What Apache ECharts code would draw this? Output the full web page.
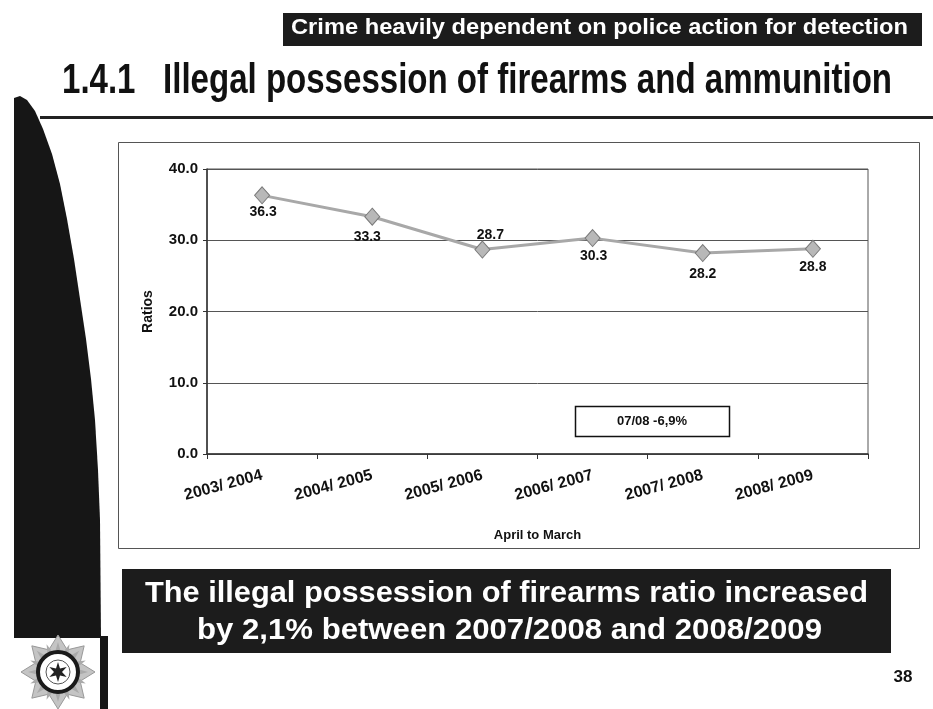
<!DOCTYPE html>
<html>
<head>
<meta charset="utf-8">
<script src="https://cdn.jsdelivr.net/npm/echarts@6/dist/echarts.min.js"></script>
<style>
html,body{margin:0;padding:0;background:#fff;}
#main{width:933px;height:709px;}
</style>
</head>
<body>
<div id="main"></div>
<script>
// ---- data ----
const categories = ['2003/ 2004', '2004/ 2005', '2005/ 2006', '2006/ 2007', '2007/ 2008', '2008/ 2009'];
const ratios = [36.3, 33.3, 28.7, 30.3, 28.2, 28.8];
const yMin = 0, yMax = 40, yInterval = 10;
const titleText = '1.4.1   Illegal possession of firearms and ammunition';
const bannerText = 'Crime heavily dependent on police action for detection';
const noteText = '07/08 -6,9%';
const conclusion1 = 'The illegal possession of firearms ratio increased';
const conclusion2 = 'by 2,1% between 2007/2008 and 2008/2009';
const pageNo = '38';
const yAxisName = 'Ratios';
const xAxisName = 'April to March';

// ---- styles (label offsets relative to each point) ----
const labelOffsets = [[1, 17], [-5, 20], [8, -14], [1, 18], [0, 21], [0, 18]];

const SANS = '"Liberation Sans", Arial, Helvetica, sans-serif';
const NARROW = '"Liberation Sans Narrow", "Arial Narrow", "Liberation Sans", Arial, sans-serif';

const mctx = document.createElement('canvas').getContext('2d');
function fit(text, font, width) {
  mctx.font = font;
  return width / mctx.measureText(text).width;
}
function fitText(text, font, x0, x1, y, fill) {
  const s = fit(text, font, x1 - x0);
  return {
    type: 'text', x: x0, y: y, scaleX: s, originX: 0, originY: 0, z: 20,
    style: { text: text, font: font, fill: fill, align: 'left', verticalAlign: 'middle' }
  };
}

// left decorative shape
const leftShape = [[14,98],[20,96],[27,100],[35,111],[43,129],[52,154],[60,184],[67,219],[74,259],[80,299],[86,339],[91,379],[95,420],[98,470],[100,520],[101,638],[14,638]];

// star for logo
function starPoints(cx, cy, rOut, rIn, n) {
  const pts = [];
  for (let i = 0; i < n * 2; i++) {
    const r = i % 2 === 0 ? rOut : rIn;
    const a = Math.PI * i / n - Math.PI / 2;
    pts.push([cx + r * Math.cos(a), cy + r * Math.sin(a)]);
  }
  return pts;
}

const chart = echarts.init(document.getElementById('main'), null, { renderer: 'canvas' });

const graphics = [
  // chart frame
  { type: 'rect', shape: { x: 118.5, y: 142.5, width: 801, height: 406 }, style: { fill: 'none', stroke: '#555', lineWidth: 1 }, z: 1 },
  // top banner
  { type: 'rect', shape: { x: 283, y: 13, width: 639, height: 33 }, style: { fill: '#1c1c1c' }, z: 10 },
  fitText(bannerText, 'bold 22px ' + NARROW, 291, 908, 28, '#fff'),
  // title
  fitText(titleText, 'bold 42px ' + NARROW, 62, 892, 81, '#111'),
  // rule under title
  { type: 'rect', shape: { x: 40, y: 116, width: 893, height: 3 }, style: { fill: '#222' }, z: 10 },
  // left black shape
  { type: 'polygon', shape: { points: leftShape, smooth: 0 }, style: { fill: '#161616' }, z: 5 },
  { type: 'rect', shape: { x: 100, y: 636, width: 8, height: 73 }, style: { fill: '#161616' }, z: 5 },
  // logo
  { type: 'polygon', shape: { points: starPoints(58, 672, 37, 24, 8) }, style: { fill: '#c4c4c4', stroke: '#999', lineWidth: 1 }, z: 6 },
  { type: 'polygon', shape: { points: starPoints(58, 672, 30, 18, 16) }, style: { fill: '#aaa' }, z: 6 },
  { type: 'circle', shape: { cx: 58, cy: 672, r: 20 }, style: { fill: '#fff', stroke: '#1a1a1a', lineWidth: 4 }, z: 7 },
  { type: 'circle', shape: { cx: 58, cy: 672, r: 12 }, style: { fill: '#fff', stroke: '#555', lineWidth: 1 }, z: 7 },
  { type: 'polygon', shape: { points: starPoints(58, 672, 10, 4, 6) }, style: { fill: '#222' }, z: 8 },
  // annotation box
  { type: 'rect', shape: { x: 575.5, y: 406.5, width: 154, height: 30 }, style: { fill: '#fff', stroke: '#111', lineWidth: 1.5 }, z: 12 },
  { type: 'text', x: 652, y: 421, z: 13, style: { text: noteText, font: 'bold 13px ' + SANS, fill: '#111', align: 'center', verticalAlign: 'middle' } },
  // bottom banner
  { type: 'rect', shape: { x: 122, y: 569, width: 769, height: 84 }, style: { fill: '#1c1c1c' }, z: 10 },
  fitText(conclusion1, 'bold 30px ' + SANS, 145, 868, 594, '#fff'),
  fitText(conclusion2, 'bold 30px ' + SANS, 197, 822, 631, '#fff'),
  // page number
  { type: 'text', x: 903, y: 677, z: 13, style: { text: pageNo, font: 'bold 17px ' + SANS, fill: '#111', align: 'center', verticalAlign: 'middle' } }
];

const option = {
  backgroundColor: '#fff',
  animation: false,
  grid: { left: 207, right: 65, top: 169, bottom: 255, show: true, borderColor: '#555', borderWidth: 1, backgroundColor: '#fff', containLabel: false },
  xAxis: {
    type: 'category',
    data: categories,
    boundaryGap: true,
    name: xAxisName,
    nameLocation: 'middle',
    nameGap: 75,
    nameTextStyle: { fontFamily: SANS, fontWeight: 'bold', fontSize: 13, color: '#111' },
    axisLine: { lineStyle: { color: '#333', width: 1.5 } },
    axisTick: { show: true, alignWithLabel: false, length: 5, lineStyle: { color: '#333' } },
    axisLabel: { rotate: 15, margin: 21, fontFamily: SANS, fontWeight: 'bold', fontSize: 16, color: '#111', interval: 0 },
    splitLine: { show: false }
  },
  yAxis: {
    type: 'value',
    min: yMin, max: yMax, interval: yInterval,
    name: yAxisName,
    nameLocation: 'middle',
    nameGap: 52,
    nameRotate: 90,
    nameTextStyle: { fontFamily: SANS, fontWeight: 'bold', fontSize: 14, color: '#111' },
    axisLine: { show: true, lineStyle: { color: '#333', width: 1.5 } },
    axisTick: { show: true, length: 4, lineStyle: { color: '#333' } },
    axisLabel: { margin: 9, formatter: v => v.toFixed(1), fontFamily: SANS, fontWeight: 'bold', fontSize: 15, color: '#111' },
    splitLine: { show: true, lineStyle: { color: '#555', width: 1 } }
  },
  series: [{
    type: 'line',
    data: ratios.map((v, i) => ({ value: v, label: { offset: labelOffsets[i] } })),
    symbol: 'diamond',
    symbolSize: [15, 17],
    lineStyle: { color: '#a8a8a8', width: 3 },
    itemStyle: { color: '#b8b8b8', borderColor: '#7a7a7a', borderWidth: 1 },
    label: {
      show: true, position: 'inside',
      formatter: p => p.value.toFixed(1),
      fontFamily: SANS, fontWeight: 'bold', fontSize: 14, color: '#111'
    },
    z: 5
  }],
  graphic: graphics
};
chart.setOption(option);
</script>
</body>
</html>
